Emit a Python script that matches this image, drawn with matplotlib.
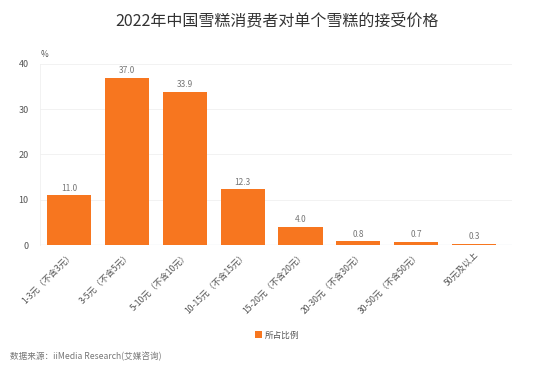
import matplotlib
matplotlib.use("Agg")
import matplotlib.pyplot as plt

plt.rcParams['font.family'] = ['Noto Sans CJK SC', 'DejaVu Sans']

categories = ["1-3元（不含3元）", "3-5元（不含5元）", "5-10元（不含10元）", "10-15元（不含15元）",
              "15-20元（不含20元）", "20-30元（不含30元）", "30-50元（不含50元）", "50元及以上"]
values = [11.0, 37.0, 33.9, 12.3, 4.0, 0.8, 0.7, 0.3]
yticks = [0, 10, 20, 30, 40]
series_name = "所占比例"
title = "2022年中国雪糕消费者对单个雪糕的接受价格"
source = "数据来源：iiMedia Research(艾媒咨询)"

bar_color = "#F7761F"

fig = plt.figure(figsize=(5.54, 3.71), dpi=100)
ax = fig.add_axes([0.072, 0.3396, 0.852, 0.488])

x = list(range(len(categories)))
bars = ax.bar(x, values, width=0.76, color=bar_color, label=series_name, zorder=3)
for xi, v in zip(x, values):
    ax.text(xi, v + 0.6, f"{v:.1f}", ha='center', va='bottom', fontsize=6, color='#777777')

ax.set_ylim(0, 40)
ax.set_xlim(-0.5, len(categories) - 0.5 + 0.15)
ax.set_yticks(yticks)
ax.tick_params(axis='y', length=0, labelsize=6.5, labelcolor='#555555', pad=8)
ax.set_xticks(x)
ax.set_xticklabels(categories, rotation=45, ha='right', rotation_mode='anchor', fontsize=6.2, color='#555555')
ax.tick_params(axis='x', length=0, pad=4)
ax.grid(axis='y', color='#f0f0f0', linewidth=0.6, zorder=0)
for s in ['top', 'right', 'bottom']:
    ax.spines[s].set_visible(False)
ax.spines['left'].set_color('#f0f0f0')
ax.spines['left'].set_linewidth(0.6)
ax.axhline(0, color='#e6ecf3', linewidth=1, zorder=2)

fig.text(0.074, 0.84, "%", fontsize=6, color='#555555', ha='left', va='bottom')
fig.text(0.5, 0.945, title, fontsize=11.5, color='#333333', ha='center', va='center')

leg = fig.legend(handles=[bars], labels=[series_name], loc='center', bbox_to_anchor=(0.5, 0.097),
                 frameon=False, fontsize=6.2, handlelength=0.8, handleheight=0.8, handletextpad=0.3,
                 labelcolor='#555555')
fig.text(0.018, 0.04, source, fontsize=6.2, color='#777777', ha='left', va='center')

fig.savefig("out.png", dpi=100, facecolor='white')
